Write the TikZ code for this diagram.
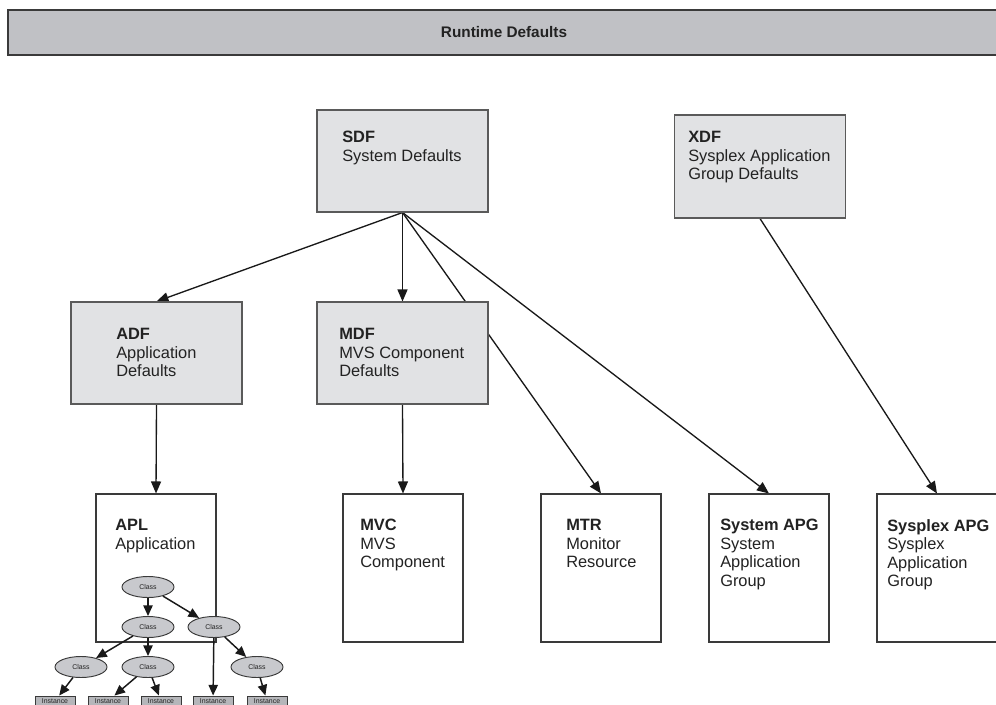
\documentclass[tikz,border=0pt]{standalone}
\usepackage{fontspec}
\setmainfont{Liberation Sans}
\usetikzlibrary{arrows.meta,shapes.geometric,backgrounds}
\definecolor{upfill}{HTML}{E1E2E4}
\definecolor{upline}{HTML}{5A5A5A}
\definecolor{lowline}{HTML}{3A3A3A}
\definecolor{bannerfill}{HTML}{C0C1C5}
\definecolor{txt}{HTML}{222222}
\definecolor{clsfill}{HTML}{C8C9CD}
\definecolor{instfill}{HTML}{B5B6BA}
\begin{document}
\begin{tikzpicture}[x=0.75pt,y=-0.75pt,
  banner/.style={draw=lowline,fill=bannerfill,line width=0.9pt,minimum width=744pt,minimum height=33.75pt,inner sep=0,
    font=\fontsize{11.5pt}{13pt}\selectfont\bfseries,text=txt},
  upbox/.style={draw=upline,fill=upfill,line width=0.8pt,minimum width=128.25pt,minimum height=76.5pt,inner sep=0},
  lowbox/.style={draw=lowline,fill=white,line width=0.8pt,minimum width=90pt,minimum height=111pt,inner sep=0},
  boxtext/.style={anchor=north west,align=left,inner sep=0,font=\fontsize{12.3pt}{13.9pt}\selectfont,text=txt},
  conn/.style={line width=1pt,draw=black!90,-{Triangle[length=9pt,width=7.5pt]}},
  cls/.style={ellipse,draw=lowline,fill=clsfill,line width=0.7pt,minimum width=39pt,minimum height=15.75pt,inner sep=0,
    font=\fontsize{5.2pt}{6pt}\selectfont,text=txt},
  inst/.style={rectangle,draw=lowline,fill=instfill,line width=0.7pt,minimum width=30pt,minimum height=7.5pt,inner sep=0,
    font=\fontsize{5.2pt}{6pt}\selectfont,text=txt},
  tconn/.style={line width=1.1pt,draw=black!90,-{Triangle[length=8pt,width=7pt]}}]
\useasboundingbox (0,0) rectangle (996,704);

% banner
\node[banner] (banner) at (504,32.5) {Runtime Defaults};

% upper boxes
\node[upbox] (sdf) at (402.5,161) {};
\node[upbox,minimum height=77.25pt] (xdf) at (760,166.5) {};
\node[upbox] (adf) at (156.5,353) {};
\node[upbox] (mdf) at (402.5,353) {};
\node[boxtext] (sdft) at (342,131) {\textbf{SDF}\\System Defaults};
\node[boxtext] (xdft) at (688,131) {\textbf{XDF}\\Sysplex Application\\Group Defaults};
\node[boxtext] (adft) at (116,328) {\textbf{ADF}\\Application\\Defaults};
\node[boxtext] (mdft) at (339,328) {\textbf{MDF}\\MVS Component\\Defaults};

% lower boxes
\node[lowbox] (apl) at (156,568) {};
\node[lowbox] (mvc) at (403,568) {};
\node[lowbox] (mtr) at (601,568) {};
\node[lowbox] (sapg) at (769,568) {};
\node[lowbox] (xapg) at (937,568) {};
\node[boxtext] (aplt) at (115,519) {\textbf{APL}\\Application};
\node[boxtext] (mvct) at (360,519) {\textbf{MVC}\\MVS\\Component};
\node[boxtext] (mtrt) at (566,519) {\textbf{MTR}\\Monitor\\Resource};
\node[boxtext] (sapgt) at (720,519) {\textbf{System APG}\\System\\Application\\Group};
\node[boxtext] (xapgt) at (887,519) {\textbf{Sysplex APG}\\Sysplex\\Application\\Group};

% main connectors (behind boxes)
\begin{scope}[on background layer]
\draw[conn] (sdf.south) -- (adf.north);
\draw[conn] (sdf.south) -- (mdf.north);
\draw[conn] (sdf.south) -- (mtr.north);
\draw[conn] (sdf.south) -- (sapg.north);
\draw[conn] (xdf.south) -- (xapg.north);
\draw[conn] (adf.south) -- (apl.north);
\draw[conn] (mdf.south) -- (mvc.north);
\end{scope}

% class tree
\node[cls] (c1) at (148,587) {Class};
\node[cls] (c2) at (148,627) {Class};
\node[cls] (c3) at (214,627) {Class};
\node[cls] (c4) at (81,667) {Class};
\node[cls] (c5) at (148,667) {Class};
\node[cls] (c6) at (257,667) {Class};
\node[inst] (i1) at (55,701) {Instance};
\node[inst] (i2) at (108,701) {Instance};
\node[inst] (i3) at (161,701) {Instance};
\node[inst] (i4) at (213,701) {Instance};
\node[inst] (i5) at (267,701) {Instance};
\draw[tconn] (c1) -- (c2);
\draw[tconn] (c1) -- (c3);
\draw[tconn] (c2) -- (c4);
\draw[tconn] (c2) -- (c5);
\draw[tconn] (c3) -- (i4);
\draw[tconn] (c3) -- (c6);
\draw[tconn] (c4) -- (i1);
\draw[tconn] (c5) -- (i2);
\draw[tconn] (c5) -- (i3);
\draw[tconn] (c6) -- (i5);
\end{tikzpicture}
\end{document}
